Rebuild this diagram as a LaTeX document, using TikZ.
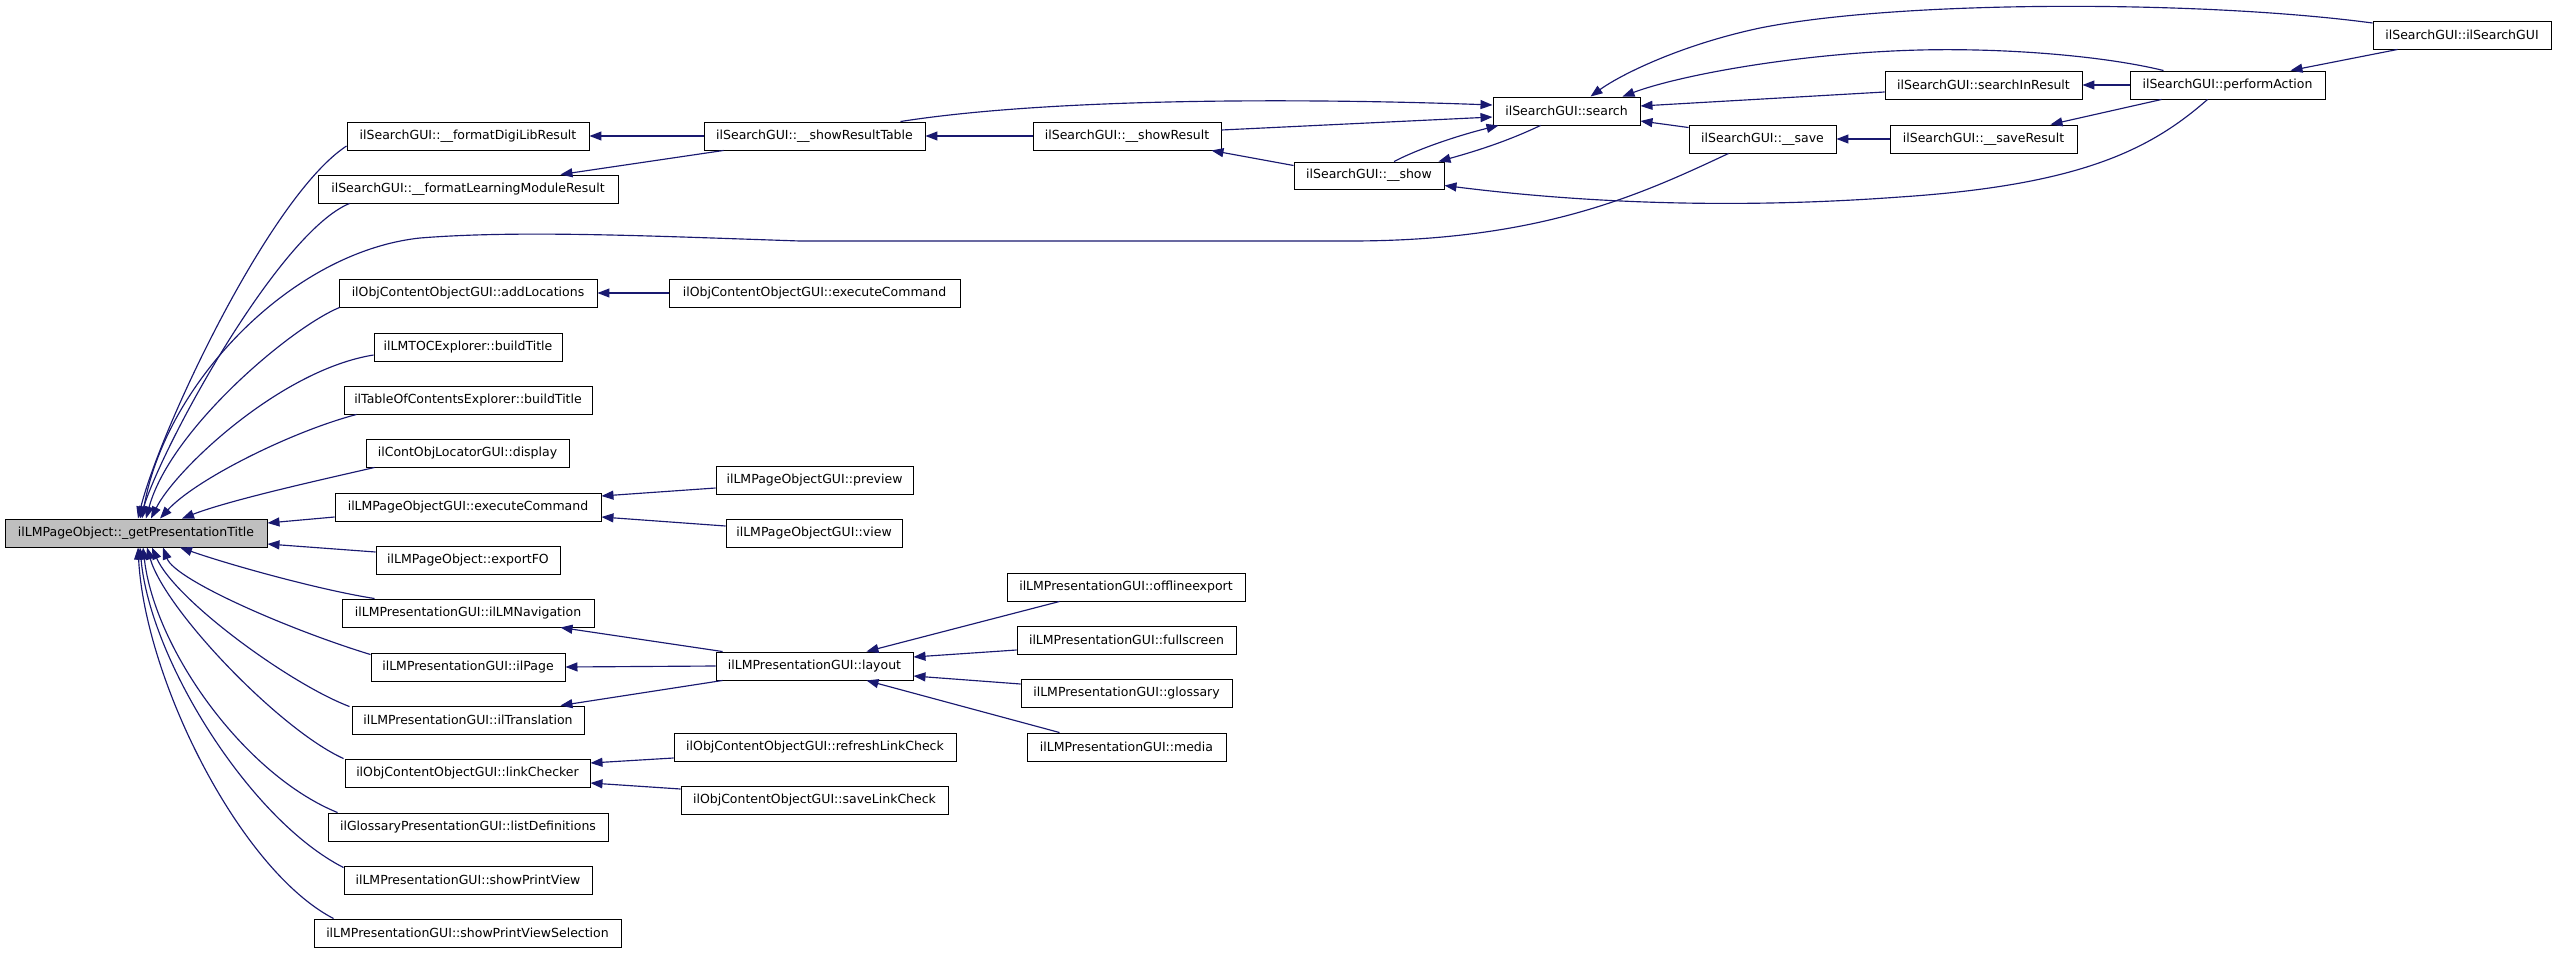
\documentclass[tikz,border=0pt]{standalone}
\usepackage{fontspec}
\setmainfont{DejaVu Sans}
\usetikzlibrary{arrows.meta,calc}
\definecolor{edgeblue}{HTML}{191970}
\definecolor{mainfill}{HTML}{BFBFBF}
\begin{document}
\begin{tikzpicture}[x=1pt,y=-1pt,
  fn/.style={draw=black,line width=0.95pt,minimum height=28pt,inner sep=0pt,
    font=\fontsize{12.5}{15}\selectfont,fill=white},
  edge/.style={draw=edgeblue,line width=1.15pt,-{Triangle[length=12pt,width=9pt]}}]
\useasboundingbox[fill=white] (0,0) rectangle (2557,953);

% nodes
\node[fn,minimum width=262pt,fill=mainfill] (main) at (136,533) {ilLMPageObject::\_getPresentationTitle};
\node[fn,minimum width=242pt] (fdl) at (468,136) {ilSearchGUI::\_\_formatDigiLibResult};
\node[fn,minimum width=300pt] (flm) at (468,189) {ilSearchGUI::\_\_formatLearningModuleResult};
\node[fn,minimum width=258pt] (addl) at (468,293) {ilObjContentObjectGUI::addLocations};
\node[fn,minimum width=188pt] (lmtoc) at (468,347) {ilLMTOCExplorer::buildTitle};
\node[fn,minimum width=248pt] (toc) at (468,400) {ilTableOfContentsExplorer::buildTitle};
\node[fn,minimum width=203pt] (disp) at (467.5,453) {ilContObjLocatorGUI::display};
\node[fn,minimum width=266pt] (lmexec) at (468,507) {ilLMPageObjectGUI::executeCommand};
\node[fn,minimum width=184pt] (expfo) at (468,560) {ilLMPageObject::exportFO};
\node[fn,minimum width=252pt] (nav) at (468,613) {ilLMPresentationGUI::ilLMNavigation};
\node[fn,minimum width=194pt] (ilpage) at (468,667) {ilLMPresentationGUI::ilPage};
\node[fn,minimum width=232pt] (transl) at (468,720) {ilLMPresentationGUI::ilTranslation};
\node[fn,minimum width=245pt] (link) at (467.5,773) {ilObjContentObjectGUI::linkChecker};
\node[fn,minimum width=280pt] (listdef) at (468,827) {ilGlossaryPresentationGUI::listDefinitions};
\node[fn,minimum width=248pt] (spv) at (468,880) {ilLMPresentationGUI::showPrintView};
\node[fn,minimum width=307pt] (spvs) at (467.5,933) {ilLMPresentationGUI::showPrintViewSelection};

\node[fn,minimum width=221pt] (srt) at (814.5,136) {ilSearchGUI::\_\_showResultTable};
\node[fn,minimum width=188pt] (sr) at (1127,136) {ilSearchGUI::\_\_showResult};
\node[fn,minimum width=291pt] (ocexec) at (814.5,293) {ilObjContentObjectGUI::executeCommand};
\node[fn,minimum width=197pt] (prev) at (814.5,480) {ilLMPageObjectGUI::preview};
\node[fn,minimum width=176pt] (view) at (814,533) {ilLMPageObjectGUI::view};
\node[fn,minimum width=197pt] (layout) at (814.5,666) {ilLMPresentationGUI::layout};
\node[fn,minimum width=282pt] (refresh) at (815,747) {ilObjContentObjectGUI::refreshLinkCheck};
\node[fn,minimum width=267pt] (savelc) at (814.5,800) {ilObjContentObjectGUI::saveLinkCheck};
\node[fn,minimum width=238pt] (offl) at (1126,587) {ilLMPresentationGUI::offlineexport};
\node[fn,minimum width=219pt] (full) at (1126.5,640) {ilLMPresentationGUI::fullscreen};
\node[fn,minimum width=211pt] (gloss) at (1126.5,693) {ilLMPresentationGUI::glossary};
\node[fn,minimum width=199pt] (media) at (1126.5,747) {ilLMPresentationGUI::media};

\node[fn,minimum width=147pt] (search) at (1566.5,111) {ilSearchGUI::search};
\node[fn,minimum width=150pt,minimum height=27pt] (show) at (1369,175.5) {ilSearchGUI::\_\_show};
\node[fn,minimum width=147pt] (save) at (1762.5,139) {ilSearchGUI::\_\_save};
\node[fn,minimum width=197pt] (sir) at (1983.5,85) {ilSearchGUI::searchInResult};
\node[fn,minimum width=187pt] (saveres) at (1983.5,139) {ilSearchGUI::\_\_saveResult};
\node[fn,minimum width=195pt] (perf) at (2227.5,85) {ilSearchGUI::performAction};
\node[fn,minimum width=178pt] (isg) at (2462,35) {ilSearchGUI::ilSearchGUI};

% edges into main (upper)
\draw[edge] ($(fdl.west)+(0,10)$) .. controls (270,196) and (160,430) .. ($(main.north)+(2,0)$);
\draw[edge] ($(flm.south west)+(32,0)$) .. controls (280,232) and (165,440) .. ($(main.north)+(4,0)$);
\draw[edge] ($(save.south west)+(40,0)$) .. controls (1640,195) and (1540,241) .. (1350,241) -- (800,241) .. controls (650,236) and (520,230) .. (420,238) .. controls (290,252) and (165,385) .. ($(main.north)+(6,0)$);
\draw[edge] ($(addl.south west)+(1,0)$) .. controls (290,328) and (170,430) .. ($(main.north)+(10,0)$);
\draw[edge] ($(lmtoc.west)+(0,8)$) .. controls (280,370) and (175,470) .. ($(main.north)+(15,0)$);
\draw[edge] ($(toc.south west)+(13,0)$) .. controls (290,432) and (195,480) .. ($(main.north)+(24,0)$);
\draw[edge] ($(disp.south west)+(9,0)$) .. controls (320,480) and (230,500) .. ($(main.north)+(46,0)$);
\draw[edge] ($(lmexec.west)+(0,10)$) -- ($(main.east)+(0,-10)$);
\draw[edge] ($(expfo.west)+(0,-8)$) -- ($(main.east)+(0,11)$);
% edges into main (lower)
\draw[edge] ($(nav.north west)+(33,0)$) .. controls (320,590) and (230,565) .. ($(main.south)+(44,0)$);
\draw[edge] ($(ilpage.north west)+(0,2)$) .. controls (290,630) and (175,580) .. ($(main.south)+(27,0)$);
\draw[edge] ($(transl.north west)+(-2,1)$) .. controls (290,684) and (175,600) .. ($(main.south)+(16,0)$);
\draw[edge] ($(link.north west)+(-1,0)$) .. controls (280,730) and (165,610) .. ($(main.south)+(11,0)$);
\draw[edge] ($(listdef.north west)+(10,0)$) .. controls (245,775) and (155,650) .. ($(main.south)+(7,0)$);
\draw[edge] ($(spv.north west)+(0,2)$) .. controls (250,820) and (150,660) .. ($(main.south)+(4,0)$);
\draw[edge] ($(spvs.north west)+(20,0)$) .. controls (240,870) and (145,680) .. ($(main.south)+(2,0)$);

% column 3 -> column 2
\draw[edge] (srt.west) -- (fdl.east);
\draw[edge] ($(srt.south west)+(20,0)$) -- ($(flm.north east)+(-58,0)$);
\draw[edge] (sr.west) -- (srt.east);
\draw[edge] (ocexec.west) -- (addl.east);
\draw[edge] ($(prev.west)+(0,8)$) -- ($(lmexec.east)+(0,-11)$);
\draw[edge] ($(view.west)+(0,-7)$) -- ($(lmexec.east)+(0,10)$);
\draw[edge] ($(layout.north west)+(7,0)$) -- ($(nav.south east)+(-34,0)$);
\draw[edge] (layout.west) -- (ilpage.east);
\draw[edge] ($(layout.south west)+(7,0)$) -- ($(transl.north east)+(-24,0)$);
\draw[edge] ($(refresh.west)+(0,11)$) -- ($(link.east)+(0,-10)$);
\draw[edge] ($(savelc.west)+(0,-11)$) -- ($(link.east)+(0,10)$);
\draw[edge] ($(offl.south west)+(53,0)$) -- ($(layout.north east)+(-47,0)$);
\draw[edge] ($(full.west)+(0,10)$) -- ($(layout.east)+(0,-9)$);
\draw[edge] ($(gloss.west)+(0,-9)$) -- ($(layout.east)+(0,10)$);
\draw[edge] ($(media.north west)+(33,0)$) -- ($(layout.south east)+(-47,0)$);

% search cluster
\draw[edge] ($(srt.north east)+(-25,0)$) .. controls (1050,98) and (1300,98) .. ($(search.west)+(0,-6)$);
\draw[edge] ($(sr.east)+(0,-6)$) -- ($(search.west)+(0,6)$);
\draw[edge] ($(show.north)+(25,0)$) .. controls (1420,148) and (1460,135) .. ($(search.south west)+(6,0)$);
\draw[edge] ($(search.south)+(-26,0)$) .. controls (1510,140) and (1480,150) .. ($(show.north east)+(-6,0)$);
\draw[edge] ($(show.west)+(0,-10)$) -- ($(sr.south east)+(-10,0)$);
\draw[edge] ($(isg.west)+(0,-12)$) .. controls (2200,0) and (1900,0) .. (1760,28) .. controls (1680,45) and (1620,75) .. ($(search.north)+(24,0)$);
\draw[edge] ($(perf.north west)+(34,0)$) .. controls (2100,55) and (2000,48) .. (1920,50) .. controls (1800,53) and (1680,75) .. ($(search.north east)+(-18,0)$);
\draw[edge] ($(sir.west)+(0,7)$) -- ($(search.east)+(0,-5)$);
\draw[edge] ($(save.north west)+(0,3)$) -- ($(search.east)+(0,10)$);
\draw[edge] (perf.west) -- (sir.east);
\draw[edge] ($(isg.south west)+(25,0)$) -- ($(perf.north east)+(-35,0)$);
\draw[edge] ($(perf.south west)+(32,0)$) -- ($(saveres.north east)+(-27,0)$);
\draw[edge] (saveres.west) -- (save.east);
\draw[edge] ($(perf.south west)+(78,0)$) .. controls (2150,150) and (2080,185) .. (1900,197) .. controls (1750,208) and (1600,205) .. ($(show.east)+(0,10)$);
\end{tikzpicture}
\end{document}
